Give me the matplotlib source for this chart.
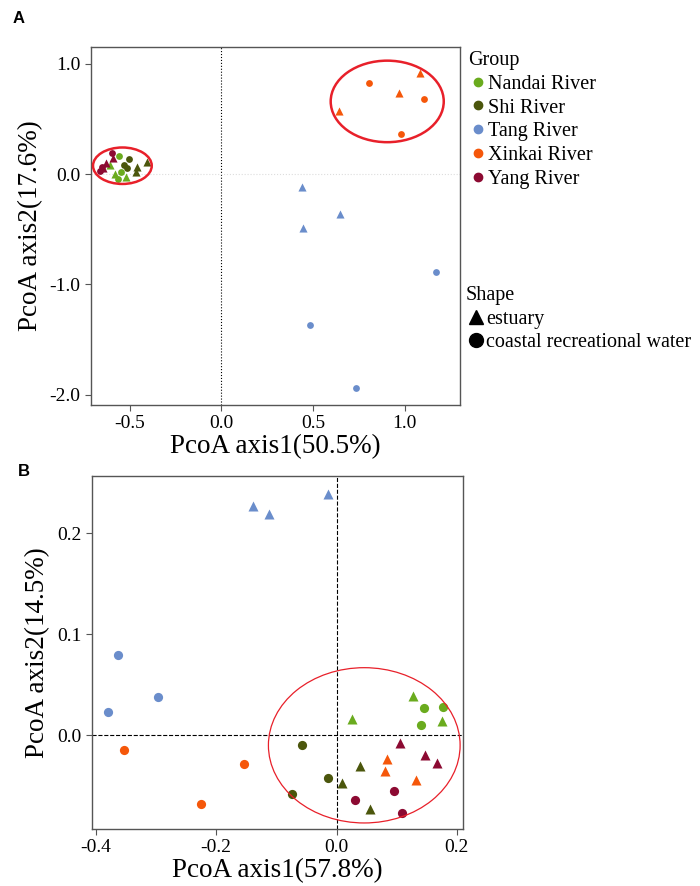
import numpy as np
import matplotlib.pyplot as plt
from matplotlib.patches import Ellipse
from matplotlib.lines import Line2D

plt.rcParams['font.family'] = ['Liberation Serif', 'DejaVu Serif']

groups = ['Nandai River', 'Shi River', 'Tang River', 'Xinkai River', 'Yang River']
colors = ['#6aab1e', '#4b560c', '#6a8dcb', '#f5570a', '#8c0a32']

# panel A (axis1 50.5%, axis2 17.6%) - triangles = estuary, circles = coastal water
a_tri_x = {
    'Nandai River': [-0.604, -0.58, -0.521],
    'Shi River': [-0.457, -0.463, -0.407],
    'Tang River': [0.438, 0.648, 0.446],
    'Xinkai River': [1.08, 0.97, 0.643],
    'Yang River': [-0.591, -0.628, -0.645],
}
a_tri_y = {
    'Nandai River': [0.078, 0.0, -0.024],
    'Shi River': [0.066, 0.015, 0.111],
    'Tang River': [-0.114, -0.361, -0.488],
    'Xinkai River': [0.91, 0.73, 0.566],
    'Yang River': [0.145, 0.096, 0.05],
}
a_cir_x = {
    'Nandai River': [-0.558, -0.563, -0.545],
    'Shi River': [-0.503, -0.530, -0.512],
    'Tang River': [1.17, 0.483, 0.734],
    'Xinkai River': [0.805, 1.106, 0.978],
    'Yang River': [-0.595, -0.652, -0.663],
}
a_cir_y = {
    'Nandai River': [0.165, -0.045, 0.015],
    'Shi River': [0.135, 0.081, 0.051],
    'Tang River': [-0.89, -1.37, -1.94],
    'Xinkai River': [0.82, 0.68, 0.364],
    'Yang River': [0.186, 0.066, 0.024],
}

# panel B (axis1 57.8%, axis2 14.5%)
b_tri_x = {
    'Nandai River': [0.0254, 0.1278, 0.1753],
    'Shi River': [0.0387, 0.0083, 0.0559],
    'Tang River': [-0.139, -0.112, -0.0138],
    'Xinkai River': [0.083, 0.0808, 0.1327],
    'Yang River': [0.1056, 0.147, 0.167],
}
b_tri_y = {
    'Nandai River': [0.0161, 0.0391, 0.0145],
    'Shi River': [-0.0306, -0.047, -0.073],
    'Tang River': [0.2266, 0.219, 0.2388],
    'Xinkai River': [-0.0234, -0.0352, -0.0447],
    'Yang River': [-0.0076, -0.020, -0.0276],
}
b_cir_x = {
    'Nandai River': [0.146, 0.1764, 0.1405],
    'Shi River': [-0.058, -0.0138, -0.0741],
    'Tang River': [-0.363, -0.297, -0.380],
    'Xinkai River': [-0.353, -0.154, -0.2246],
    'Yang River': [0.0962, 0.0304, 0.1084],
}
b_cir_y = {
    'Nandai River': [0.027, 0.0276, 0.0105],
    'Shi River': [-0.0099, -0.0421, -0.0579],
    'Tang River': [0.0793, 0.0378, 0.0227],
    'Xinkai River': [-0.0151, -0.0289, -0.0684],
    'Yang River': [-0.0549, -0.0641, -0.077],
}

fig = plt.figure(figsize=(7, 8.86), dpi=100)
axA = fig.add_axes([0.130, 0.543, 0.527, 0.404])
axB = fig.add_axes([0.131, 0.0643, 0.530, 0.398])


def style(ax):
    for s in ax.spines.values():
        s.set_color('#555555')
        s.set_linewidth(1.0)
    ax.tick_params(direction='out', length=4, width=0.8, color='#555555',
                   labelsize=14, labelcolor='black')


# panel A
axA.axvline(0, color='black', ls=':', lw=0.8, zorder=1)
axA.axhline(0, color='#dddddd', ls=':', lw=0.8, zorder=1)
for g, c in zip(groups, colors):
    axA.scatter(a_tri_x[g], a_tri_y[g], marker='^', s=34, color=c, lw=0, zorder=3)
    axA.scatter(a_cir_x[g], a_cir_y[g], marker='o', s=24, color=c, lw=0, zorder=3)
axA.add_patch(Ellipse((0.904, 0.657), 0.616, 0.738, fill=False, ec='#e8202a', lw=1.8, zorder=4))
axA.add_patch(Ellipse((-0.539, 0.075), 0.32, 0.33, fill=False, ec='#e8202a', lw=1.8, zorder=4))
axA.set_xlim(-0.71, 1.30)
axA.set_ylim(-2.09, 1.15)
axA.set_xticks([-0.5, 0.0, 0.5, 1.0])
axA.set_xticklabels(['-0.5', '0.0', '0.5', '1.0'])
axA.set_yticks([-2.0, -1.0, 0.0, 1.0])
axA.set_yticklabels(['-2.0', '-1.0', '0.0', '1.0'])
axA.set_xlabel('PcoA axis1(50.5%)', fontsize=19.5, labelpad=1)
axA.set_ylabel('PcoA axis2(17.6%)', fontsize=19.5, labelpad=5)
style(axA)

grp_handles = [Line2D([], [], marker='o', ls='', color=c, markersize=6) for c in colors]
legG = axA.legend(grp_handles, groups, title='Group', loc='upper left',
                  bbox_to_anchor=(1.0, 1.011), frameon=False, fontsize=14.5,
                  title_fontsize=14.5, handletextpad=0.0, handlelength=1.0,
                  labelspacing=0.23, borderaxespad=0.2, borderpad=0.2)
legG._legend_box.align = 'left'
axA.add_artist(legG)
shp_handles = [Line2D([], [], marker='^', ls='', color='black', markersize=10),
               Line2D([], [], marker='o', ls='', color='black', markersize=10)]
legS = axA.legend(shp_handles, ['estuary', 'coastal recreational water'], title='Shape',
                  loc='upper left', bbox_to_anchor=(0.995, 0.355), frameon=False,
                  fontsize=14.5, title_fontsize=14.5, handletextpad=0.0,
                  handlelength=1.0, labelspacing=0.23, borderaxespad=0.2, borderpad=0.2)
legS._legend_box.align = 'left'

# panel B
axB.axvline(0, color='black', ls='--', lw=0.8, zorder=1)
axB.axhline(0, color='black', ls='--', lw=0.8, zorder=1)
for g, c in zip(groups, colors):
    axB.scatter(b_tri_x[g], b_tri_y[g], marker='^', s=52, color=c, lw=0, zorder=3)
    axB.scatter(b_cir_x[g], b_cir_y[g], marker='o', s=44, color=c, lw=0, zorder=3)
axB.add_patch(Ellipse((0.046, -0.01), 0.3186, 0.1536, fill=False, ec='#e8202a', lw=0.9, zorder=4))
axB.set_xlim(-0.407, 0.2096)
axB.set_ylim(-0.0928, 0.256)
axB.set_xticks([-0.4, -0.2, 0.0, 0.2])
axB.set_xticklabels(['-0.4', '-0.2', '0.0', '0.2'])
axB.set_yticks([0.0, 0.1, 0.2])
axB.set_yticklabels(['0.0', '0.1', '0.2'])
axB.set_xlabel('PcoA axis1(57.8%)', fontsize=19.5, labelpad=1)
axB.set_ylabel('PcoA axis2(14.5%)', fontsize=19.5, labelpad=5)
style(axB)

fig.text(0.018, 0.979, 'A', fontsize=12, fontweight='bold', family='Liberation Sans', va='center')
fig.text(0.026, 0.468, 'B', fontsize=12, fontweight='bold', family='Liberation Sans', va='center')

fig.savefig('out.png', dpi=100)
